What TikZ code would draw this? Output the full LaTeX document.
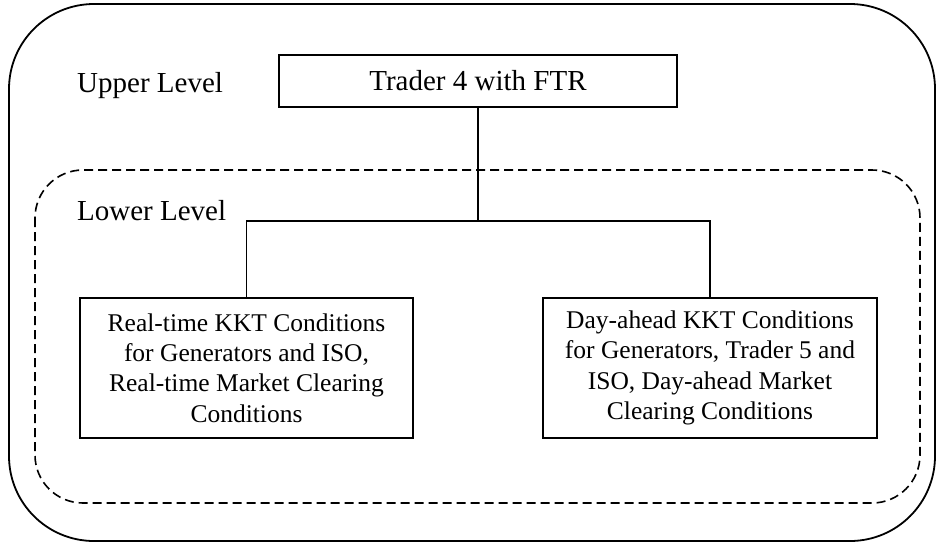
\documentclass[tikz,border=0pt]{standalone}
\usepackage{fontspec}
\setmainfont{Liberation Serif}
\begin{document}
\begin{tikzpicture}[x=1pt,y=-1pt,
  frame/.style={draw=black,line width=1.8pt},
  box/.style={draw=black,line width=1.8pt,rectangle,inner sep=0pt,align=center},
  boxtext/.style={font=\fontsize{25.5}{30.4}\selectfont},
  lbl/.style={font=\fontsize{29}{34}\selectfont,inner sep=0pt,anchor=base west},
  conn/.style={draw=black,line width=1.6pt}]
\useasboundingbox (0,0) rectangle (941,544);
\draw[frame,rounded corners=85pt] (9,4) rectangle (935,541);
\draw[line width=1.6pt,dash pattern=on 9pt off 5pt,rounded corners=48pt] (35,170) rectangle (920,503);
\node[lbl] (ul) at (77,92) {Upper Level};
\node[lbl] (ll) at (77,220) {Lower Level};
\node[box,minimum width=398pt,minimum height=52pt,font=\fontsize{29}{34}\selectfont] (top) at (478,81) {Trader 4 with FTR};
\node[box,boxtext,minimum width=333pt,minimum height=140pt] (lb) at (246.5,368)
  {Real-time KKT Conditions\\for Generators and ISO,\\Real-time Market Clearing\\Conditions};
\node[box,boxtext,minimum width=334pt,minimum height=140pt] (rb) at (710,368)
  {Day-ahead KKT Conditions\\for Generators, Trader 5 and\\ISO, Day-ahead Market\\Clearing Conditions};
\coordinate (bus) at (478,221);
\draw[conn] (top.south) -- (bus);
\draw[conn] (lb.north) -- (lb.north |- bus) -- (rb.north |- bus) -- (rb.north);
\end{tikzpicture}
\end{document}
